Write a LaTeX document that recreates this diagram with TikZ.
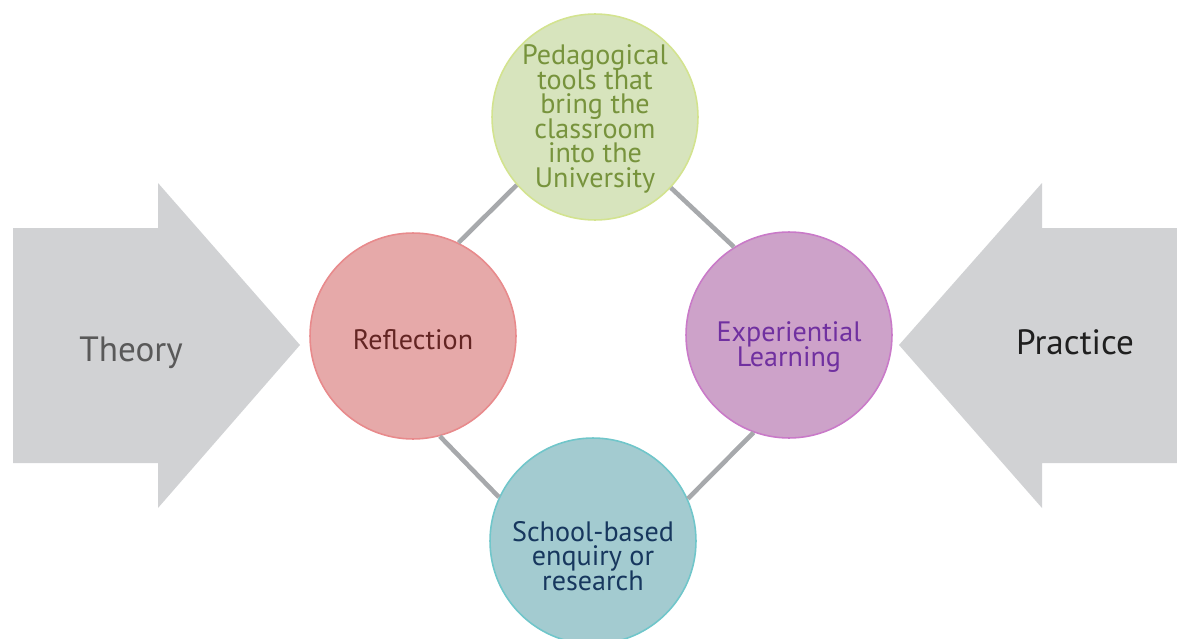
\documentclass[tikz,border=0pt]{standalone}
\usepackage{fontspec}
\setmainfont{PT Sans}

\definecolor{arrowgray}{HTML}{D1D2D4}
\definecolor{linkgray}{HTML}{A7A9AC}
\definecolor{greenfill}{HTML}{D7E4BD}
\definecolor{greenline}{HTML}{D3E38F}
\definecolor{greentext}{HTML}{77933C}
\definecolor{redfill}{HTML}{E6A9A9}
\definecolor{redline}{HTML}{E88A8C}
\definecolor{redtext}{HTML}{632523}
\definecolor{purplefill}{HTML}{CDA2C9}
\definecolor{purpleline}{HTML}{C97AC8}
\definecolor{purpletext}{HTML}{7030A0}
\definecolor{bluefill}{HTML}{A3CBD0}
\definecolor{blueline}{HTML}{70C6CA}
\definecolor{bluetext}{HTML}{17375E}

\tikzset{
  bubble/.style={circle,minimum size=4.12cm,inner sep=0pt,line width=0.9pt},
  bubbletext/.style={align=center,inner sep=0pt,
    font={\fontsize{16}{14}\selectfont\lineskiplimit=-8pt}},
  link/.style={linkgray,line width=2.6pt},
  bigword/.style={font=\fontsize{20}{24}\selectfont}
}

\begin{document}
\begin{tikzpicture}[x=0.02cm,y=-0.02cm]
    \useasboundingbox (0,0) rectangle (1177,639);

    % Side arrows
    \fill[arrowgray] (13,228) -- (158,228) -- (158,183) -- (300,345)
        -- (158,508) -- (158,463) -- (13,463) -- cycle;
    \fill[arrowgray] (1177,228) -- (1042,228) -- (1042,183) -- (899,345)
        -- (1042,508) -- (1042,463) -- (1177,463) -- cycle;
    \node (theory) at (131,353) [bigword,text=black!65] {Theory};
    \node (practice) at (1075,342) [bigword,text=black!88] {Practice};

    % Circles
    \node (tools) at (595,117) [bubble,fill=greenfill,draw=greenline] {};
    \node (reflect) at (413,336) [bubble,fill=redfill,draw=redline] {};
    \node (exper) at (789,335) [bubble,fill=purplefill,draw=purpleline] {};
    \node (school) at (593,541) [bubble,fill=bluefill,draw=blueline] {};

    % Circle texts
    \node (toolstext) at (595,119) [bubbletext,text=greentext]
        {Pedagogical\\tools that\\bring the\\classroom\\into the\\University};
    \node (reflecttext) at (413,340) [bubbletext,text=redtext] {Reflection};
    \node (expertext) at (789,347) [bubbletext,text=purpletext]
        {Experiential\\Learning};
    \node (schooltext) at (593,556) [bubbletext,text=bluetext]
        {School-based\\enquiry or\\research};

    % Links
    \path[link] (tools.221) edge (reflect.64);
    \path[link] (tools.317) edge (exper.122);
    \path[link] (reflect.285) edge (school.155);
    \path[link] (exper.250) edge (school.24);
\end{tikzpicture}
\end{document}
